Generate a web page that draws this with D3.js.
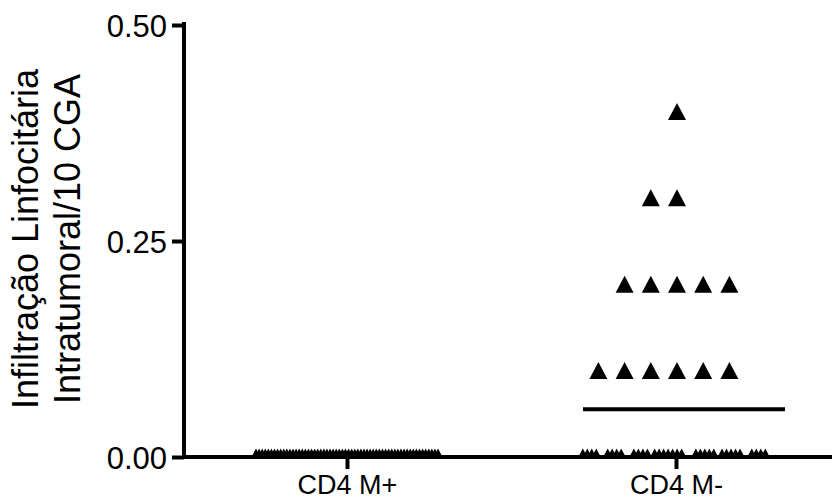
<!DOCTYPE html>
<html><head><meta charset="utf-8">
<script src="https://cdn.jsdelivr.net/npm/d3@7"></script>
<style>body{margin:0;background:#fff}svg{display:block}text{font-family:"Liberation Sans",Arial,sans-serif;fill:#000}</style>
</head><body><svg id="c" width="832" height="502"></svg>
<script>
const categories = ["CD4 M+", "CD4 M-"];
// values per group (value : count)
const valuesMplus = [0];
const countsMplus = [60];
const valuesMminus = [0.4, 0.3, 0.2, 0.1, 0];
const countsMminus = [1, 2, 5, 6, 33];
const yTicks = [0.00, 0.25, 0.50];
const yLabelLines = ["Infiltração Linfocitária", "Intratumoral/10 CGA"];

const svg = d3.select("#c");
const y = d3.scaleLinear().domain([0, 0.5]).range([457, 25]);
const x = d3.scalePoint().domain(categories).range([347, 676]);
const axisX = 184;
const FS = 31;

const step = 26.2, triW = 18, triH = 17;
function expand(vals, counts){ const out=[]; vals.forEach((v,i)=>{for(let k=0;k<counts[i];k++) out.push(v);}); return out; }
const groups = [
  {cat: categories[0], data: expand(valuesMplus, countsMplus), meanW: 200, meanOff: 0},
  {cat: categories[1], data: expand(valuesMminus, countsMminus), meanW: 202, meanOff: 8}
];

function layout(g){
  const pts=[];
  const byVal = d3.group(g.data, d=>d);
  byVal.forEach((arr, v)=>{
    const n = arr.length;
    if (n <= 7){
      arr.forEach((d,i)=>pts.push({v, dx:(i-Math.floor(n/2))*step + 1}));
    } else if (g.cat === categories[0]) {
      const w = g.meanW - triW;
      arr.forEach((d,i)=>pts.push({v, dx:-w/2 + i*w/(n-1)}));
    } else {
      const clusterC = [-3.3,-2.35,-1.35,-0.3,1.1,2.1,3.15];
      const clusterN = [4,4,4,7,5,5,4];
      let idx=0;
      clusterC.forEach((c,ci)=>{
        for(let k=0;k<clusterN[ci] && idx<n;k++,idx++){
          pts.push({v, dx:c*step + (k-(clusterN[ci]-1)/2)*4.5});
        }
      });
    }
  });
  return pts;
}

svg.append("defs").append("clipPath").attr("id","clip")
  .append("rect").attr("x",0).attr("y",0).attr("width",832).attr("height",y(0));

const tri = `M0,${-triH/2}L${triW/2},${triH/2}L${-triW/2},${triH/2}Z`;
const plot = svg.append("g").attr("clip-path","url(#clip)");
groups.forEach(g=>{
  const pts = layout(g);
  plot.selectAll(null).data(pts).enter().append("path")
    .attr("d", tri)
    .attr("transform", d=>`translate(${x(g.cat)+d.dx},${y(d.v)})`)
    .attr("fill","#000");
  const m = d3.mean(g.data);
  plot.append("line")
    .attr("x1", x(g.cat)+g.meanOff-g.meanW/2).attr("x2", x(g.cat)+g.meanOff+g.meanW/2)
    .attr("y1", y(m)).attr("y2", y(m))
    .attr("stroke","#000").attr("stroke-width",4);
});

const ya = svg.append("g").attr("transform",`translate(${axisX},0)`)
  .call(d3.axisLeft(y).tickValues(yTicks).tickFormat(d3.format(".2f")).tickSize(12).tickPadding(5));
ya.select(".domain").remove();
ya.selectAll(".tick line").attr("stroke","#000").attr("stroke-width",4);
ya.selectAll(".tick text").attr("font-size",FS).attr("font-family","Liberation Sans, Arial, sans-serif").attr("dy","0.36em");
svg.append("line").attr("x1",axisX).attr("x2",axisX).attr("y1",y(0.5)-3).attr("y2",y(0)+2)
  .attr("stroke","#000").attr("stroke-width",4);

const xa = svg.append("g").attr("transform",`translate(0,${y(0)})`)
  .call(d3.axisBottom(x).tickSize(12).tickPadding(6));
xa.select(".domain").remove();
xa.selectAll(".tick line").attr("stroke","#000").attr("stroke-width",4);
xa.selectAll(".tick text").attr("font-size",27).attr("font-family","Liberation Sans, Arial, sans-serif").attr("dy","0.71em");
svg.append("line").attr("x1",axisX-2).attr("x2",832).attr("y1",y(0)).attr("y2",y(0))
  .attr("stroke","#000").attr("stroke-width",4);

const yl = svg.append("text").attr("transform",`translate(0,239) rotate(-90)`)
  .attr("text-anchor","middle").attr("font-size",36);
yLabelLines.forEach((t,i)=>yl.append("tspan").attr("x",0).attr("y", 38 + i*42).text(t));
</script></body></html>
